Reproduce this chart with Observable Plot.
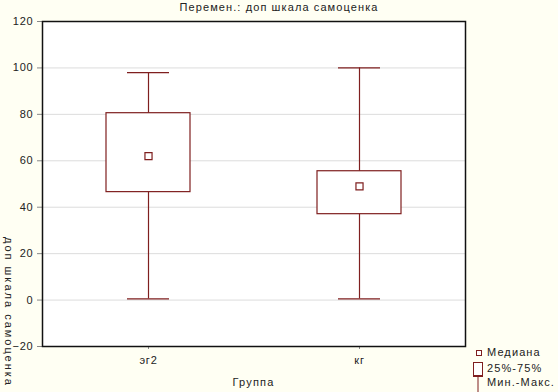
<!DOCTYPE html>
<html>
<head>
<meta charset="utf-8">
<script src="https://cdn.jsdelivr.net/npm/d3@7"></script>
<script src="https://cdn.jsdelivr.net/npm/@observablehq/plot@0.6"></script>
<style>
  html, body { margin: 0; padding: 0; background: #fffff3; }
  #wrap { position: relative; width: 558px; height: 392px; overflow: hidden; font-family: "Liberation Sans", Arial, sans-serif; color: #222; }
  #chart { position: absolute; left: 0; top: 0; }
  #chart svg text { letter-spacing: 0.8px; }
  .txt { position: absolute; font-size: 11px; white-space: nowrap; line-height: 1; }
  #title { left: 0; width: 558px; top: 2px; text-align: center; letter-spacing: 1.1px; }
  #ylab { left: 2px; top: 237px; transform-origin: 0 0; transform: translate(12px, 0) rotate(90deg); letter-spacing: 2px; }
  #xlab { left: 42px; width: 423px; top: 377px; text-align: center; letter-spacing: 1.2px; }
  .leg { position: absolute; left: 470px; font-size: 11px; line-height: 1; white-space: nowrap; letter-spacing: 1.1px; }
  .leg svg { position: absolute; left: 0; top: 0; overflow: visible; }
  .leg span { position: absolute; left: 17px; }
</style>
</head>
<body>
<div id="wrap">
  <div id="chart"></div>
  <div id="title" class="txt">Перемен.: доп шкала самоценка</div>
  <div id="ylab" class="txt">доп шкала самоценка</div>
  <div id="xlab" class="txt">Группа</div>
  <div class="leg" style="top:346px">
    <svg width="14" height="14"><rect x="6.5" y="4.5" width="5" height="5" fill="white" stroke="#7f1f1f"/></svg>
    <span style="top:1px">Медиана</span>
  </div>
  <div class="leg" style="top:361px">
    <svg width="14" height="16"><rect x="3.5" y="1.5" width="9" height="13" fill="white" stroke="#7f1f1f"/></svg>
    <span style="top:2px">25%-75%</span>
  </div>
  <div class="leg" style="top:376px">
    <svg width="14" height="16"><line x1="3" x2="13" y1="0.5" y2="0.5" stroke="#7f1f1f"/><line x1="8" x2="8" y1="0.5" y2="16" stroke="#7f1f1f"/></svg>
    <span style="top:1px">Мин.-Макс.</span>
  </div>
</div>
<script>
const groups = ["эг2", "кг"];
const medians = [62, 49];
const q1 = [46.5, 37];
const q3 = [80.5, 55.5];
const mins = [0.5, 0.5];
const maxs = [98, 100];
const yTicks = [-20, 0, 20, 40, 60, 80, 100, 120];

const data = groups.map((g, i) => ({group: g, median: medians[i], q1: q1[i], q3: q3[i], min: mins[i], max: maxs[i]}));
const maroon = "#7f1f1f";

const chart = Plot.plot({
  width: 558,
  height: 392,
  marginLeft: 42,
  marginRight: 93,
  marginTop: 21,
  marginBottom: 46,
  style: {background: "transparent", fontSize: "11px", fontFamily: "Liberation Sans, Arial, sans-serif", color: "#222"},
  x: {domain: groups, paddingInner: 0.6, paddingOuter: 0.3, label: null},
  y: {domain: [-20, 120], label: null},
  marks: [
    Plot.frame({fill: "white", stroke: "none"}),
    Plot.gridY(yTicks, {stroke: "#dcdcdc", strokeOpacity: 1}),
    Plot.ruleX(data, {x: "group", y1: "min", y2: "max", stroke: maroon, strokeWidth: 1.2}),
    Plot.barY(data, {x: "group", y1: "q1", y2: "q3", fill: "white", stroke: maroon, strokeWidth: 1.2}),
    Plot.tickY(data, {x: "group", y: "min", stroke: maroon, strokeWidth: 1.2, insetLeft: 21, insetRight: 21}),
    Plot.tickY(data, {x: "group", y: "max", stroke: maroon, strokeWidth: 1.2, insetLeft: 21, insetRight: 21}),
    Plot.dot(data, {x: "group", y: "median", symbol: "square", r: 4, stroke: maroon, fill: "white", strokeWidth: 1.2}),
    Plot.axisY({ticks: yTicks, tickSize: 5, tickPadding: 4, label: null, stroke: "#888"}),
    Plot.axisX({tickSize: 3, tickPadding: 7, label: null, stroke: "#888"}),
    Plot.frame({stroke: "#111", strokeWidth: 1.5})
  ]
});
document.getElementById("chart").appendChild(chart);
</script>
</body>
</html>
